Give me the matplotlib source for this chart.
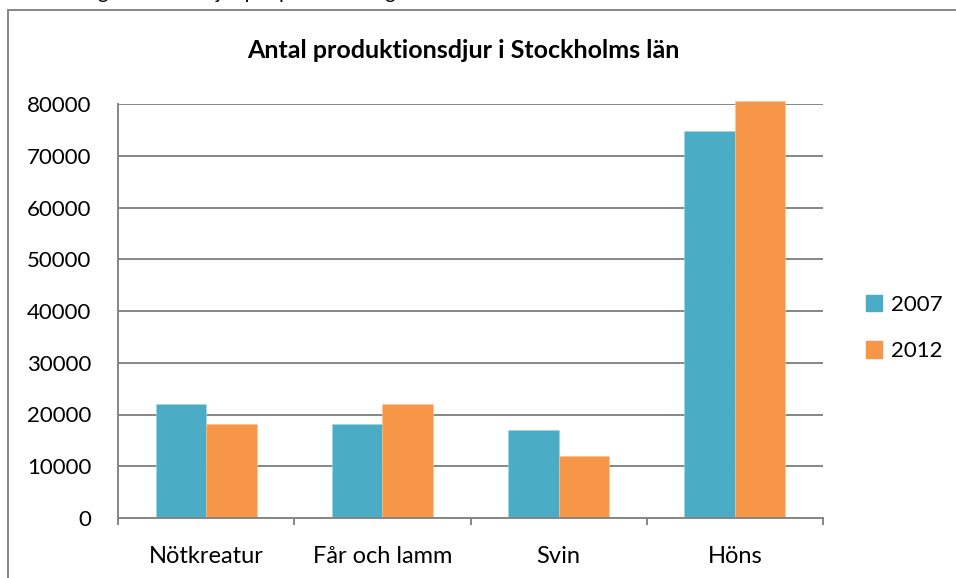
import matplotlib.pyplot as plt
from matplotlib.patches import Rectangle, Patch
import numpy as np

plt.rcParams['font.family'] = ['Lato', 'DejaVu Sans']

categories = ['Nötkreatur', 'Får och lamm', 'Svin', 'Höns']
years = ['2007', '2012']
values_2007 = [22000, 18100, 17100, 74800]
values_2012 = [18100, 22100, 12000, 80600]
y_ticks = [0, 10000, 20000, 30000, 40000, 50000, 60000, 70000, 80000]

title = 'Antal produktionsdjur i Stockholms län'
caption_above = 'Förändring av antalet djur per produktionsgren'

teal = '#4BACC6'
orange = '#F79646'
grey = '#868686'

W, H = 956, 578
fig = plt.figure(figsize=(W / 100, H / 100), dpi=100)

# frame of the chart object, cut off at right and bottom
fig.patches.append(Rectangle((8 / W, -0.05), 1.1, 1 - 10 / H + 0.05,
                             transform=fig.transFigure, fill=False,
                             edgecolor=grey, linewidth=1.4))

# text line above the chart, only the descenders fall inside the picture
fig.text(12 / W, 1 + 1.5 / H, caption_above, fontsize=14.5, va='baseline',
         ha='left', color='black')

ax = fig.add_axes([118 / W, 60 / H, 705 / W, 414 / H])

x = np.arange(len(categories))
bw = 0.287
ax.bar(x - bw / 2, values_2007, bw, color=teal, label=years[0], zorder=3,
       clip_on=False, edgecolor='#9fd3e0', linewidth=0.4)
ax.bar(x + bw / 2, values_2012, bw, color=orange, label=years[1], zorder=3,
       clip_on=False, edgecolor='#fbc49a', linewidth=0.4)

ax.set_xlim(-0.5, len(categories) - 0.5)
ax.set_ylim(0, 80000)
ax.set_yticks(y_ticks)
ax.set_yticklabels([str(v) for v in y_ticks])
ax.yaxis.grid(True, color=grey, linewidth=1.4, zorder=0)
ax.set_axisbelow(True)

ax.set_xticks(x)
ax.set_xticklabels(categories)
ax.set_xticks(np.arange(-0.5, len(categories)), minor=True)
ax.tick_params(axis='x', which='major', length=0, pad=20, labelsize=17)
ax.tick_params(axis='x', which='minor', length=5, width=1.4, color=grey)
ax.tick_params(axis='y', length=0, pad=19, labelsize=16)

for s in ['top', 'right']:
    ax.spines[s].set_visible(False)
for s in ['left', 'bottom']:
    ax.spines[s].set_color(grey)
    ax.spines[s].set_linewidth(1.4)
    ax.spines[s].set_zorder(4)

fig.text(463 / W, 1 - 51 / H, title, fontsize=18, fontweight='bold',
         ha='center', va='center')

handles = [Patch(color=teal), Patch(color=orange)]
fig.legend(handles, years, loc='center left',
           bbox_to_anchor=(850 / W, 1 - 328 / H), frameon=False,
           fontsize=16, handlelength=0.75, handleheight=0.75,
           handletextpad=0.4, labelspacing=1.2, borderpad=0.2)

fig.savefig('out.png', dpi=100)
